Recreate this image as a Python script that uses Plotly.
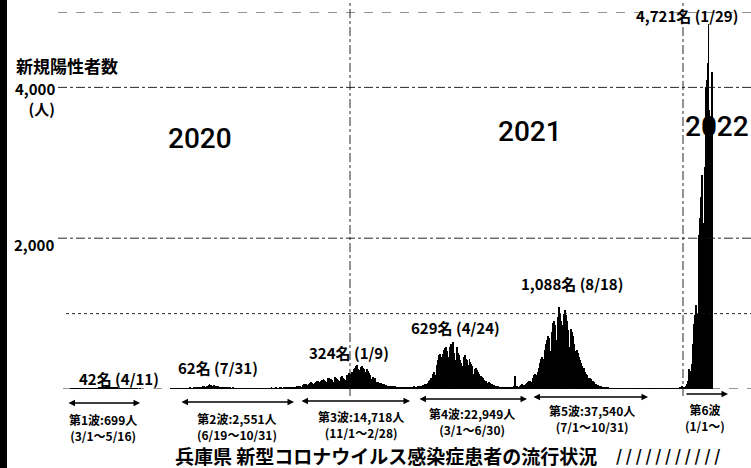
import pandas as pd
import plotly.graph_objects as go

# ---- daily new positive cases ----
m2020_03 = [1,0,2,1,3,2,4,3,2,3, 6,5,3,2,4,6,8,3,2,1, 3,5,4,7,3,2,8,6,4,10, 12]
m2020_04 = [15,20,18,25,12,22,30,28,35,33, 42,20,15,25,22,18,20,24,10,8, 14,12,10,9,6,8,5,3,4,2]
m2020_05 = [3,2,1,2,1,0,1,2,0,1, 0,0,1,0,0,1,0,0,0,0, 0,0,0,0,0,0,0,0,0,0, 0]
m2020_06 = [0,0,0,0,0,0,0,0,0,0, 0,0,0,0,0,0,0,0,1,0, 2,1,1,0,3,2,1,4,2,5]
m2020_07 = [3,4,6,8,5,3,7,9,12,14, 10,8,11,15,18,20,25,22,14,12, 24,30,28,35,40,22,30,38,45,50, 62]
m2020_08 = [55,48,30,44,50,45,40,38,35,20, 28,32,30,25,22,15,12,20,18,22, 15,14,10,8,12,15,10,9,8,6, 5]
m2020_09 = [8,10,6,9,7,5,4,8,10,12, 6,5,3,7,9,11,8,6,4,5, 10,6,8,7,9,5,4,8,10,7]
m2020_10 = [9,12,6,8,5,10,15,12,9,7, 11,14,8,10,12,16,18,10,8,12, 20,15,18,14,12,16,22,25,20,18, 24]
m2020_11 = [30,20,25,35,40,45,38,30,32,50, 55,60,70,65,48,45,72,85,90,80, 70,65,60,75,95,110,100,90,80,105]
m2020_12 = [120,110,130,115,105,70,90,140,150,135, 128,115,80,95,145,155,140,138,120,70, 100,160,170,150,135,130,80,120,180,190, 210]
m2021_01 = [200,150,230,220,260,280,300,310,324,260, 190,250,290,300,280,270,180,170,230,260, 240,210,190,130,110,160,150,140,130,90, 80]
m2021_02 = [90,85,80,75,70,65,60,55,50,48, 45,40,42,38,30,35,40,38,36,30, 28,25,30,32,28,26,24,22]
m2021_03 = [20,25,30,28,26,24,22,25,28,30, 32,35,30,28,26,30,35,38,40,42, 45,50,55,60,65,70,80,95,110,120, 140]
m2021_04 = [150,200,230,180,150,320,380,420,450,470, 430,300,460,520,540,560,500,420,280,420, 560,600,520,629,480,350,380,560,480,450]
m2021_05 = [420,380,350,300,280,420,450,400,380,250, 320,400,360,330,300,200,180,260,280,250, 230,200,130,150,170,160,140,120,90,110, 80]
m2021_06 = [80,90,85,70,65,60,55,50,45,40, 38,35,30,28,32,30,28,25,22,20, 18,25,28,22,20,18,24,26,30,35]
m2021_07 = [170,38,35,32,30,45,50,55,60,58, 50,45,65,80,90,100,110,95,85,130, 150,180,200,190,170,220,280,350,400,420, 380]
m2021_08 = [400,350,520,600,650,700,680,500,480,750, 820,880,900,850,650,600,950,1088,1000,900, 850,650,600,1000,1050,980,900,780,560,520, 800]
m2021_09 = [750,700,650,600,500,450,520,480,420,380, 350,300,250,280,260,220,200,180,150,120, 140,130,110,100,90,80,70,60,55,50]
m2021_10 = [45,40,35,30,28,25,22,20,18,15, 14,12,10,12,8,9,7,6,5,8, 6,4,5,3,4,5,3,2,3,4, 2]
m2021_11 = [2,3,1,2,4,3,1,0,2,3, 1,2,1,0,1,2,3,1,2,1, 0,1,2,1,0,2,1,3,2,1]
m2021_12 = [2,1,3,1,2,0,1,2,1,3, 2,1,0,2,3,1,2,4,3,2, 5,4,6,8,10,7,9,12,18,20, 35]
m2022_01 = [14,20,22,40,68,100,183,263,240,240, 326,595,859,979,1108,1000,950,1436,2047,2270, 2543,2843,2200,2100,2939,4000,4100,4321,4721,3700, 2600]
m2022_02 = [3600,4200]

month_starts = ["2020-03-01","2020-04-01","2020-05-01","2020-06-01","2020-07-01","2020-08-01",
                "2020-09-01","2020-10-01","2020-11-01","2020-12-01","2021-01-01","2021-02-01",
                "2021-03-01","2021-04-01","2021-05-01","2021-06-01","2021-07-01","2021-08-01",
                "2021-09-01","2021-10-01","2021-11-01","2021-12-01","2022-01-01","2022-02-01"]
month_values = [m2020_03,m2020_04,m2020_05,m2020_06,m2020_07,m2020_08,m2020_09,m2020_10,
                m2020_11,m2020_12,m2021_01,m2021_02,m2021_03,m2021_04,m2021_05,m2021_06,
                m2021_07,m2021_08,m2021_09,m2021_10,m2021_11,m2021_12,m2022_01,m2022_02]

# ---- texts ----
y_title = "新規陽性者数"
y_unit = "(人)"
y_tick_text = ["4,000", "2,000"]
grid_dashdot = [2000, 4000]
grid_dot = [1000]
grid_top = 5000
year_labels = ["2020", "2021", "2022"]
year_lines = ["2021-01-01", "2022-01-01"]
peak_labels = ["42名 (4/11)", "62名 (7/31)", "324名 (1/9)", "629名 (4/24)", "1,088名 (8/18)", "4,721名 (1/29)"]
wave_names = ["第1波:699人", "第2波:2,551人", "第3波:14,718人", "第4波:22,949人", "第5波:37,540人", "第6波"]
wave_periods = ["(3/1〜5/16)", "(6/19〜10/31)", "(11/1〜2/28)", "(3/1〜6/30)", "(7/1〜10/31)", "(1/1〜)"]
title_text = "兵庫県 新型コロナウイルス感染症患者の流行状況"

dates, values = [], []
for start, vals in zip(month_starts, month_values):
    dates += list(pd.date_range(start, periods=len(vals), freq="D"))
    values += vals

# ---- layout geometry (pixels) ----
W, H = 751, 468
L, R, T, B = 62, 0, 12, 79
PW, PH = W - L - R, H - T - B
YMAX = 5000
PX_PER_DAY = 333 / 365.0
ANCHOR = pd.Timestamp("2021-01-01")
ANCHOR_PX = 350

def px(x):
    return (x - L) / PW

def py(y):
    return (H - B - y) / PH

def px_to_date(x):
    return ANCHOR + pd.Timedelta(days=(x - ANCHOR_PX) / PX_PER_DAY)

JP = "Noto Sans CJK JP"

fig = go.Figure(go.Bar(x=dates, y=values, marker=dict(color="black", line=dict(width=0)),
                       hoverinfo="skip"))

fig.update_layout(
    width=W, height=H, margin=dict(l=L, r=R, t=T, b=B),
    paper_bgcolor="white", plot_bgcolor="white", bargap=0, showlegend=False,
    font=dict(family=JP, color="black"),
    xaxis=dict(range=[px_to_date(L), px_to_date(W)], showgrid=False, showticklabels=False,
               zeroline=False, showline=False, ticks=""),
    yaxis=dict(range=[0, YMAX], showgrid=False, showticklabels=False, zeroline=False,
               showline=False, ticks=""),
)

LINE = "#111111"
# gridlines
for v in grid_dashdot:
    fig.add_shape(type="line", xref="paper", yref="y", x0=px(58), x1=1, y0=v, y1=v,
                  line=dict(color=LINE, width=0.9, dash="dashdot"))
for v in grid_dot:
    fig.add_shape(type="line", xref="paper", yref="y", x0=px(66), x1=1, y0=v, y1=v,
                  line=dict(color=LINE, width=0.9, dash="dot"))
fig.add_shape(type="line", xref="paper", yref="y", x0=px(58), x1=1, y0=grid_top, y1=grid_top,
              line=dict(color=LINE, width=0.9, dash="dash"))
fig.add_shape(type="line", xref="paper", yref="y", x0=px(63), x1=1, y0=0, y1=0,
              line=dict(color=LINE, width=0.9, dash="dash"))
for d in year_lines:
    fig.add_shape(type="line", xref="x", yref="paper", x0=d, x1=d, y0=py(396), y1=py(0),
                  line=dict(color=LINE, width=0.9, dash="dashdot"))

# left black border (scan edge)
fig.add_shape(type="rect", xref="paper", yref="paper", x0=px(0), x1=px(7), y0=py(H), y1=py(0),
              fillcolor="black", line=dict(width=0), layer="above")

def label(text, x, y, size, xanchor="center", family=JP, weight="bold", align="center"):
    fig.add_annotation(text=text, xref="paper", yref="paper", x=px(x), y=py(y),
                       xanchor=xanchor, yanchor="middle", showarrow=False, align=align,
                       font=dict(family=family, size=size, color="black", weight=weight))

# y axis title and tick labels
label(y_title, 14, 65, 17, xanchor="left")
label(y_tick_text[0] + "<br>&nbsp;&nbsp;&nbsp;&nbsp;" + y_unit, 13, 99, 15, xanchor="left", align="left")
label(y_tick_text[1], 56, 244, 15, xanchor="right")

# year labels
for t, (x, y) in zip(year_labels, [(200, 138), (530, 131), (717, 126)]):
    label(t, x, y, 28, family="Roboto", weight=500)

# peak labels
for t, (x, y) in zip(peak_labels, [(119, 378), (218, 367), (349, 352), (456, 327), (572, 283), (687, 16)]):
    label(t, x, y, 15)

# leader line for the 2022 peak
fig.add_shape(type="line", xref="x", yref="paper", x0="2022-01-29", x1="2022-01-29",
              y0=py(38), y1=py(24), line=dict(color="black", width=1))

# wave arrows and labels
arrows = [(67, 140, 403, "end+start"), (180, 294, 402, "end+start"), (300, 410, 401, "end+start"),
          (418, 527, 399, "end+start"), (532, 648, 397, "end+start"), (685, 728, 394, "end")]
for (x0, x1, y, side) in arrows:
    fig.add_annotation(xref="paper", yref="paper", x=px(x1), y=py(y), ax=-(x1 - x0), ay=0,
                       axref="pixel", ayref="pixel", text="", showarrow=True, arrowhead=2,
                       arrowside=side, arrowsize=1, arrowwidth=1.3, arrowcolor="black")

wave_pos = [(103, 427), (237, 426), (361, 424), (472, 421), (592, 419), (705, 417)]
for name, per, (x, y) in zip(wave_names, wave_periods, wave_pos):
    label(name + "<br>" + per, x, y, 12)

# title and hatching
label("/ / / / / / / / / / /", 614, 455, 16, xanchor="left")
label(title_text, 386, 455, 19)

fig.write_html("out.html", config={"displayModeBar": False},
               post_script="document.body.style.margin='0';document.body.style.padding='0';")
